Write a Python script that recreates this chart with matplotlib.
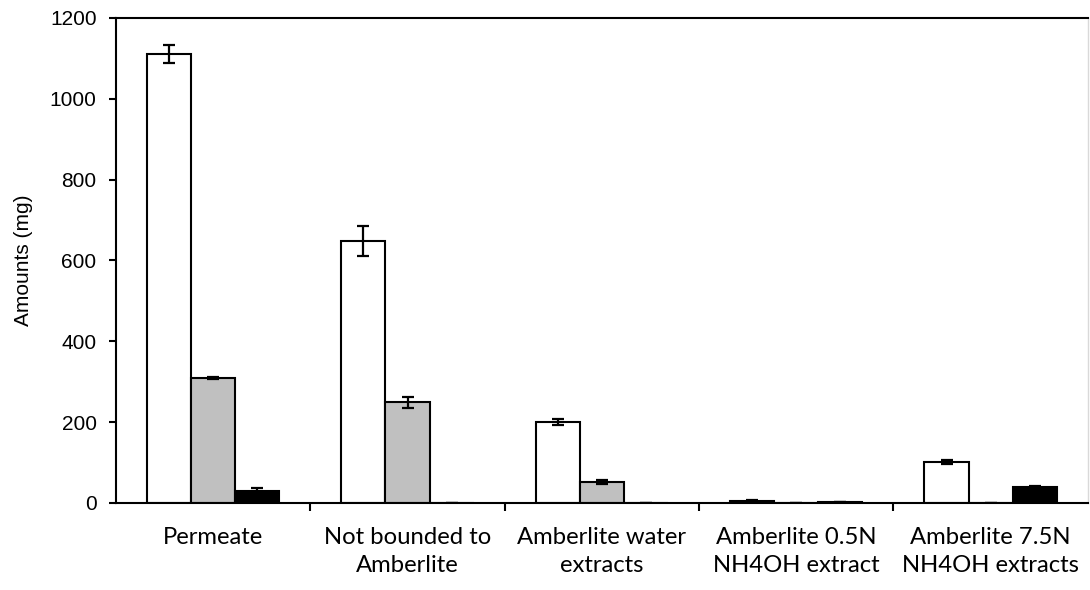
import matplotlib.pyplot as plt
import numpy as np

# categories and values
categories = ['Permeate', 'Not bounded to\nAmberlite', 'Amberlite water\nextracts',
              'Amberlite 0.5N\nNH4OH extract', 'Amberlite 7.5N\nNH4OH extracts']
white_vals = [1110, 648, 200, 6, 102]
white_err = [22, 38, 8, 1, 5]
grey_vals = [309, 249, 52, 0, 0]
grey_err = [2, 13, 5, 0, 0]
black_vals = [30, 0, 0, 2, 40]
black_err = [8, 0, 0, 0, 1]
y_ticks = [0, 200, 400, 600, 800, 1000, 1200]

fig = plt.figure(figsize=(10.9, 5.9), dpi=100)
ax = fig.add_axes([0.1064, 0.1475, 0.8916, 0.822])

x = np.arange(len(categories))
w = 0.227
err_kw = dict(ecolor='black', elinewidth=1.6, capsize=4.5, capthick=1.6)

ax.bar(x - w, white_vals, w, yerr=white_err, color='white', edgecolor='black',
       linewidth=1.5, error_kw=err_kw)
ax.bar(x, grey_vals, w, yerr=grey_err, color='#c0c0c0', edgecolor='black',
       linewidth=1.5, error_kw=err_kw)
ax.bar(x + w, black_vals, w, yerr=black_err, color='black', edgecolor='black',
       linewidth=1.5, error_kw=err_kw)

ax.set_xlim(-0.5, len(categories) - 0.5)
ax.set_ylim(0, 1200)
ax.set_yticks(y_ticks, [str(v) for v in y_ticks], family='Liberation Sans', fontsize=15)
ax.tick_params(axis='y', direction='out', length=5, width=1.5, pad=9)

# category labels centred, ticks at group boundaries
ax.set_xticks(np.arange(0.5, len(categories) - 0.5, 1))
ax.set_xticklabels([])
ax.tick_params(axis='x', direction='out', length=6, width=1.5)
ax.set_xticks(x, minor=True)
ax.set_xticklabels(categories, minor=True, family='Lato', fontsize=17.2, linespacing=1.45)
ax.tick_params(axis='x', which='minor', length=0, pad=17)

ax.set_ylabel('Amounts (mg)', family='Liberation Sans', fontsize=15, labelpad=12)

for s in ['left', 'bottom', 'top']:
    ax.spines[s].set_linewidth(1.5)
ax.spines['right'].set_color('#d9d9d9')
ax.spines['right'].set_linewidth(1)

fig.savefig('out.png', dpi=100)
